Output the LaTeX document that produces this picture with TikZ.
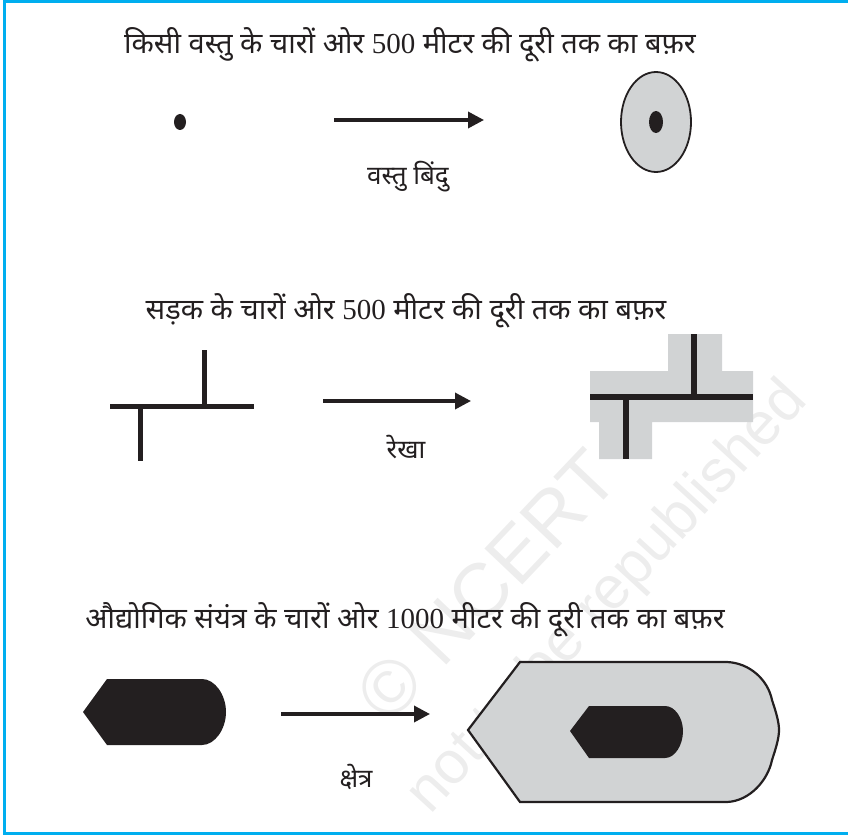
\documentclass[tikz,border=0pt]{standalone}
\usepackage{fontspec}
\usetikzlibrary{arrows.meta}
\newfontfamily\dev[Script=Devanagari]{Noto Sans}
\newfontfamily\numf{Liberation Serif}
\newfontfamily\wmf{Liberation Sans}
\definecolor{frameblue}{HTML}{00AEEF}
\definecolor{bufgray}{HTML}{D1D3D4}
\definecolor{inkblack}{HTML}{231F20}
\definecolor{wmgray}{HTML}{EDEDED}
\begin{document}
\begin{tikzpicture}[x=1pt,y=-1pt,
  title/.style={font=\dev\fontsize{29}{33}\selectfont, text=inkblack, inner sep=0pt},
  lbl/.style={font=\dev\fontsize{26}{30}\selectfont, text=inkblack, inner sep=0pt},
  arr/.style={line width=3.5pt, draw=inkblack, -{Triangle[length=16pt,width=16pt]}},
  road/.style={line width=5pt, draw=inkblack},
  bufroad/.style={line width=6.5pt, draw=inkblack},
  buf/.style={fill=bufgray, draw=inkblack, line width=2.2pt, line join=miter},
  wm/.style={text=wmgray, inner sep=0pt}
]
\useasboundingbox (0,0) rectangle (848,837);

% watermark
\node[wm, rotate=46.5, font=\wmf\fontsize{76}{76}\selectfont] (wm1) at (487,585) {© NCERT};
\node[wm, rotate=47.5, font=\wmf\fontsize{60}{60}\selectfont] (wm2) at (608,598) {not to be republished};

% frame
\draw[frameblue, line width=3pt] (848,1.5) -- (4,1.5) -- (4,833) -- (848,833);

% ---- point buffer
\node[title] (t1) at (410,45) {किसी वस्तु के चारों ओर {\numf 500} मीटर की दूरी तक का बफ़र};
\fill[inkblack] (180,122) ellipse [x radius=6pt, y radius=8pt];
\coordinate (a1s) at (334,120);
\coordinate (a1e) at (484,120);
\draw[arr] (a1s) -- (a1e);
\node[lbl] (l1) at (408,177) {वस्तु बिंदु};
\filldraw[fill=bufgray, draw=inkblack, line width=1.8pt] (656,122) ellipse [x radius=35pt, y radius=50pt];
\fill[inkblack] (656,122) ellipse [x radius=7pt, y radius=11pt];

% ---- line buffer
\node[title] (t2) at (406,311) {सड़क के चारों ओर {\numf 500} मीटर की दूरी तक का बफ़र};
\draw[road] (110,406) -- (254,406);
\draw[road] (204,350) -- (204,406);
\draw[road] (140,406) -- (140,461);
\coordinate (a2s) at (323,401);
\coordinate (a2e) at (471,401);
\draw[arr] (a2s) -- (a2e);
\node[lbl] (l2) at (406,447) {रेखा};
\fill[bufgray] (590,371) -- (668,371) -- (668,334) -- (722,334) -- (722,371) -- (753,371)
  -- (753,422) -- (652,422) -- (652,459) -- (599,459) -- (599,422) -- (590,422) -- cycle;
\draw[bufroad] (590,397) -- (753,397);
\draw[bufroad] (694,334) -- (694,397);
\draw[bufroad] (626,397) -- (626,459);

% ---- area buffer
\node[title] (t3) at (405,620) {औद्योगिक संयंत्र के चारों ओर {\numf 1000} मीटर की दूरी तक का बफ़र};
\fill[inkblack] (83,712) -- (107,679) -- (202,679)
  .. controls (215,679) and (226,695) .. (226,712)
  .. controls (226,729) and (215,745) .. (202,745) -- (107,745) -- cycle;
\coordinate (a3s) at (281,714);
\coordinate (a3e) at (430,714);
\draw[arr] (a3s) -- (a3e);
\node[lbl] (l3) at (356,777) {क्षेत्र};
\filldraw[buf] (468,730) -- (520,662) -- (727,662)
  .. controls (750,663) and (768,680) .. (772,700)
  .. controls (776,712) and (779,722) .. (779,730)
  .. controls (779,738) and (776,748) .. (772,760)
  .. controls (768,780) and (750,801) .. (727,802) -- (520,802) -- cycle;
\fill[inkblack] (570,731) -- (589,706) -- (665,706)
  .. controls (675,706) and (683,718) .. (683,731)
  .. controls (683,745) and (675,758) .. (665,758) -- (589,758) -- cycle;
\end{tikzpicture}
\end{document}
